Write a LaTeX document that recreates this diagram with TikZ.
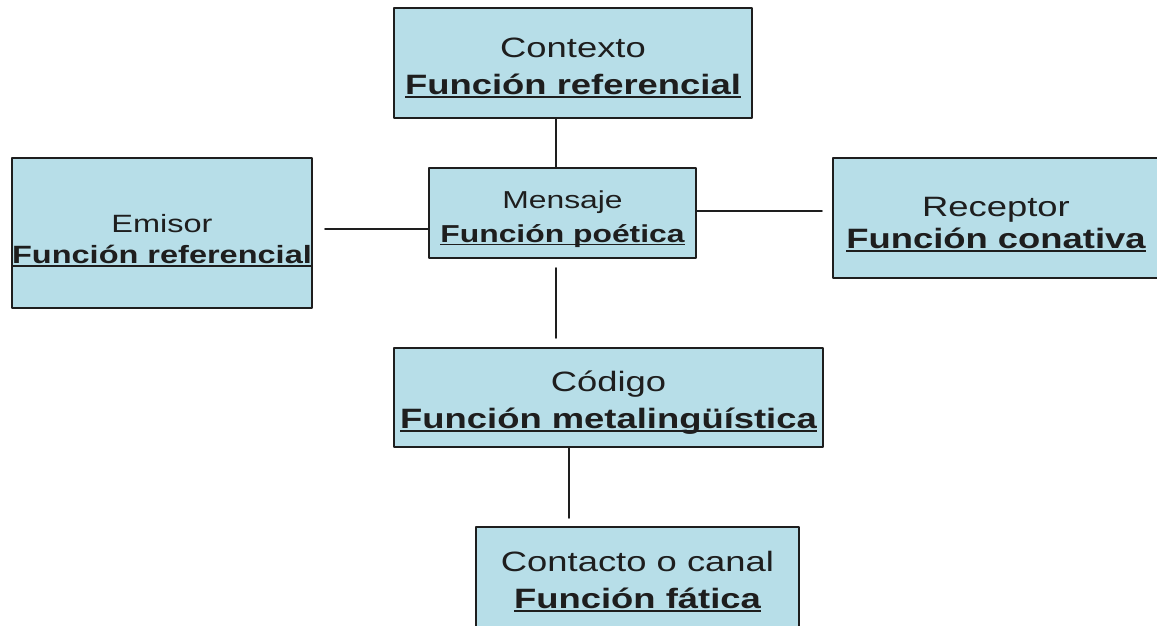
\documentclass[tikz,border=0pt]{standalone}
\usepackage{fontspec}
\setmainfont[FakeStretch=1.3]{Liberation Sans}
\definecolor{celeste}{RGB}{183,222,232}
\definecolor{trazo}{RGB}{30,30,30}
\newsavebox\cajasub
\newcommand{\subraya}[1]{\sbox\cajasub{#1}\rlap{\rule[-.13em]{\wd\cajasub}{.075em}}\usebox\cajasub}
\newcommand{\alto}[1]{\rule{0pt}{#1em}}
\begin{document}
\begin{tikzpicture}[x=1pt,y=-1pt,line join=round,line cap=round,
    caja/.style={draw=trazo,line width=1.6pt,fill=celeste,align=center,inner sep=0pt,
      text=trazo,font=\fontsize{28}{37}\selectfont},
    linea/.style={draw=trazo,line width=1.8pt}]
    %% marco de la imagen
    \useasboundingbox (0,0) rectangle (1157,626);
    %% cajas
    \node[caja,minimum width=358,minimum height=110] (contexto) at (573,63)
        {\alto{1.07}Contexto\\\textbf{\subraya{Función referencial}}};
    \node[caja,minimum width=267,minimum height=90,font=\fontsize{24.5}{34}\selectfont] (mensaje) at (562.5,213)
        {\alto{1.2}Mensaje\\\textbf{\subraya{Función poética}}};
    \node[caja,minimum width=300,minimum height=150,font=\fontsize{25}{31}\selectfont] (emisor) at (162,233)
        {\alto{1.36}Emisor\\\textbf{\subraya{Función referencial}}};
    \node[caja,minimum width=326,minimum height=120,font=\fontsize{28}{32}\selectfont] (receptor) at (996,218)
        {\alto{1.14}Receptor\\\textbf{\subraya{Función conativa}}};
    \node[caja,minimum width=429,minimum height=99] (codigo) at (608.5,397.5)
        {\alto{1.1}Código\\\textbf{\subraya{Función metalingüística}}};
    \node[caja,minimum width=323,minimum height=103] (contacto) at (637.5,578.5)
        {\alto{0.93}Contacto o canal\\\textbf{\subraya{Función fática}}};
    %% lineas
    \coordinate (e1) at (325,229);
    \coordinate (r1) at (822,211);
    \coordinate (c1) at (556,0);
    \coordinate (m1) at (556,268);
    \coordinate (m2) at (556,338);
    \coordinate (k1) at (569,518);
    \draw[linea] (contexto.south -| c1) -- (mensaje.north -| c1);
    \draw[linea] (e1) -- (mensaje.west |- e1);
    \draw[linea] (mensaje.east |- r1) -- (r1);
    \draw[linea] (m1) -- (m2);
    \draw[linea] (codigo.south -| k1) -- (k1);
\end{tikzpicture}
\end{document}
